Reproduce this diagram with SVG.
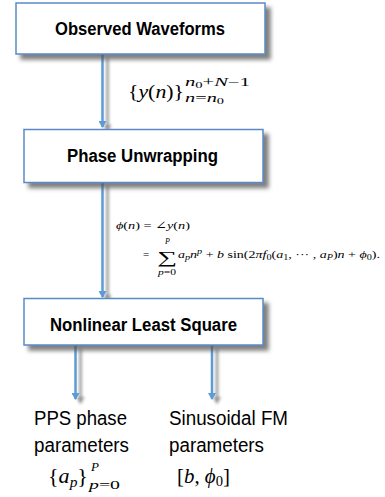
<svg xmlns="http://www.w3.org/2000/svg" width="385" height="497" viewBox="0 0 385 497">
<style>
.box{fill:#fff;stroke:#5a8ac6;stroke-width:1.5}
.title{font-family:"Liberation Sans",Arial,sans-serif;font-weight:bold;font-size:17.5px;fill:#000;text-anchor:start}
.lbl{font-family:"Liberation Sans",Arial,sans-serif;font-size:20px;fill:#000}
.m{font-family:"Liberation Serif","DejaVu Serif",serif;fill:#000}
.i{font-style:italic}
.conn{stroke:#5b9bd5;stroke-width:2.5;fill:none}
</style>
<defs>
<filter id="sh" x="-20%" y="-20%" width="150%" height="150%">
<feDropShadow dx="5" dy="5" stdDeviation="2.2" flood-color="#555" flood-opacity="0.75"/>
</filter>
<filter id="sh2" x="-300%" y="-20%" width="700%" height="150%">
<feDropShadow dx="5" dy="4" stdDeviation="1.5" flood-color="#777" flood-opacity="0.8"/>
</filter>
<marker id="ah" markerWidth="8" markerHeight="8" refX="6" refY="4" orient="auto" markerUnits="userSpaceOnUse">
<path d="M0,0 L7,4 L0,8 z" fill="#5b9bd5"/>
</marker>
</defs>
<g id="connectors" filter="url(#sh2)">
<line class="conn" x1="102.5" y1="54" x2="102.5" y2="127" marker-end="url(#ah)"/>
<line class="conn" x1="102.5" y1="182" x2="102.5" y2="297" marker-end="url(#ah)"/>
<line class="conn" x1="75.5" y1="345" x2="75.5" y2="399" marker-end="url(#ah)"/>
<line class="conn" x1="212" y1="345" x2="212" y2="399" marker-end="url(#ah)"/>
</g>
<g id="observed">
<rect class="box" x="16" y="3" width="249" height="51" filter="url(#sh)"/>
<text class="title" x="55" y="35" textLength="170" lengthAdjust="spacingAndGlyphs">Observed Waveforms</text>
</g>
<g id="phase">
<rect class="box" x="24" y="129.5" width="239" height="53" filter="url(#sh)"/>
<text class="title" x="67" y="162" textLength="151" lengthAdjust="spacingAndGlyphs">Phase Unwrapping</text>
</g>
<g id="nls">
<rect class="box" x="24" y="298.5" width="239" height="46.5" filter="url(#sh)"/>
<text class="title" x="50" y="331" textLength="187" lengthAdjust="spacingAndGlyphs">Nonlinear Least Square</text>
</g>
<g id="label-y">
<text class="m" x="128" y="98" font-size="18" textLength="56" lengthAdjust="spacingAndGlyphs">{<tspan class="i">y</tspan>(<tspan class="i">n</tspan>)}</text>
<text class="m" x="185" y="86" font-size="12" textLength="65" lengthAdjust="spacingAndGlyphs"><tspan class="i">n</tspan><tspan font-size="8.5" dy="1.5">0</tspan><tspan dy="-1.5">+</tspan><tspan class="i">N</tspan>−1</text>
<text class="m" x="185" y="102" font-size="12" textLength="39" lengthAdjust="spacingAndGlyphs"><tspan class="i">n</tspan>=<tspan class="i">n</tspan><tspan font-size="8.5" dy="1.5">0</tspan></text>
</g>
<g id="equation">
<text class="m" x="116" y="229" font-size="11" textLength="74" lengthAdjust="spacingAndGlyphs"><tspan class="i">ϕ</tspan>(<tspan class="i">n</tspan>) = ∠<tspan class="i">y</tspan>(<tspan class="i">n</tspan>)</text>
<text class="m" x="143" y="258" font-size="11">=</text>
<text class="m" x="157" y="263" font-size="17" textLength="20" lengthAdjust="spacingAndGlyphs">∑</text>
<text class="m i" x="165" y="244" font-size="8">P</text>
<text class="m" x="158" y="275" font-size="8" textLength="18" lengthAdjust="spacingAndGlyphs"><tspan class="i">p</tspan>=0</text>
<text class="m" x="178" y="258" font-size="11" textLength="202" lengthAdjust="spacingAndGlyphs"><tspan class="i">a</tspan><tspan class="i" font-size="8" dy="2">p</tspan><tspan class="i" dy="-2">n</tspan><tspan class="i" font-size="8" dy="-4">p</tspan><tspan dy="4"> + </tspan><tspan class="i">b</tspan> sin(2<tspan class="i">πf</tspan><tspan font-size="8" dy="2">0</tspan><tspan dy="-2">(</tspan><tspan class="i">a</tspan><tspan font-size="8" dy="2">1</tspan><tspan dy="-2">, ··· , </tspan><tspan class="i">a</tspan><tspan class="i" font-size="8" dy="2">P</tspan><tspan dy="-2">)</tspan><tspan class="i">n</tspan> + <tspan class="i">ϕ</tspan><tspan font-size="8" dy="2">0</tspan><tspan dy="-2">).</tspan></text>
</g>
<g id="pps">
<text class="lbl" x="34" y="425" textLength="93" lengthAdjust="spacingAndGlyphs">PPS phase</text>
<text class="lbl" x="34" y="452" textLength="95" lengthAdjust="spacingAndGlyphs">parameters</text>
<text class="m" x="48" y="483" font-size="20" textLength="40" lengthAdjust="spacingAndGlyphs">{<tspan class="i">a</tspan><tspan class="i" font-size="14" dy="4">p</tspan><tspan dy="-4">}</tspan></text>
<text class="m i" x="91" y="471" font-size="13">P</text>
<text class="m" x="89" y="489" font-size="13" textLength="31" lengthAdjust="spacingAndGlyphs"><tspan class="i">p</tspan>=0</text>
</g>
<g id="sinfm">
<text class="lbl" x="169" y="425" textLength="119" lengthAdjust="spacingAndGlyphs">Sinusoidal FM</text>
<text class="lbl" x="169" y="452" textLength="95" lengthAdjust="spacingAndGlyphs">parameters</text>
<text class="m" x="177" y="483" font-size="20" textLength="53" lengthAdjust="spacingAndGlyphs">[<tspan class="i">b</tspan>, <tspan class="i">ϕ</tspan><tspan font-size="14" dy="3">0</tspan><tspan dy="-3">]</tspan></text>
</g>
</svg>
